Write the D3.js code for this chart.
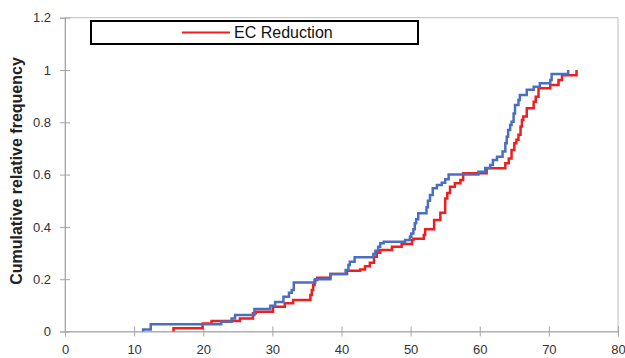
<!DOCTYPE html>
<html>
<head>
<meta charset="utf-8">
<script src="https://cdn.jsdelivr.net/npm/d3@7"></script>
<style>
  body { margin: 0; background: #fff; }
  svg { display: block; }
</style>
</head>
<body>
<svg id="chart" width="625" height="358"></svg>
<script>
// tick values
const xTicks = [0, 10, 20, 30, 40, 50, 60, 70, 80]
const yTicks = [0, 0.2, 0.4, 0.6, 0.8, 1, 1.2]

// EC Reduction (red) - step positions and cumulative frequency after each step
const ecX = [15.7, 19.9, 21.2, 25.3, 27.2, 27.6, 30.1, 31.8, 33.0, 35.5, 35.7, 35.9, 36.1, 36.5,
  38.4, 40.8, 42.7, 43.4, 44.1, 44.7, 45.1, 45.6, 47.3, 48.7, 50.2, 50.4, 51.9, 52.1, 53.4,
  54.3, 55.0, 55.3, 55.7, 56.4, 57.2, 57.6, 61.0, 63.7, 64.2, 64.6, 65.0, 65.3, 65.6, 65.9,
  66.1, 66.3, 66.8, 67.8, 68.1, 68.5, 70.2, 71.4, 71.9, 74.0]
const ecY = [0.012, 0.031, 0.04, 0.05, 0.07, 0.076, 0.095, 0.108, 0.12, 0.14, 0.159, 0.178, 0.197, 0.206,
  0.22, 0.232, 0.237, 0.25, 0.263, 0.286, 0.301, 0.312, 0.324, 0.335, 0.35, 0.355, 0.369, 0.391, 0.426,
  0.454, 0.509, 0.53, 0.554, 0.567, 0.579, 0.605, 0.624, 0.643, 0.662, 0.694, 0.72, 0.733, 0.752, 0.784,
  0.809, 0.822, 0.854, 0.879, 0.898, 0.93, 0.943, 0.962, 0.98, 1.0]

// second series (blue)
const refX = [11.3, 12.4, 22.6, 24.1, 24.6, 27.4, 29.7, 30.4, 31.6, 32.4, 32.8, 33.1, 36.2, 38.4,
  40.6, 41.0, 41.2, 41.9, 44.6, 44.9, 45.3, 45.6, 46.1, 49.2, 49.9, 50.1, 50.4, 50.6, 50.8, 51.1,
  52.3, 52.5, 52.8, 53.2, 53.8, 54.5, 55.0, 55.5, 59.8, 60.8, 61.5, 61.9, 62.5, 63.3, 63.7, 63.9,
  64.1, 64.4, 64.6, 64.9, 65.1, 65.6, 65.8, 66.8, 67.8, 68.7, 70.2, 70.4, 72.8]
const refY = [0.008, 0.028, 0.037, 0.05, 0.063, 0.086, 0.098, 0.113, 0.133, 0.148, 0.159, 0.187, 0.2, 0.22,
  0.235, 0.254, 0.267, 0.284, 0.296, 0.309, 0.324, 0.337, 0.343, 0.35, 0.362, 0.375, 0.391, 0.414, 0.429, 0.452,
  0.475, 0.5, 0.522, 0.548, 0.56, 0.569, 0.582, 0.6, 0.611, 0.625, 0.637, 0.656, 0.668, 0.688, 0.72, 0.745,
  0.771, 0.79, 0.802, 0.834, 0.866, 0.885, 0.904, 0.924, 0.936, 0.949, 0.962, 0.985, 1.0]

const legendLabel = 'EC Reduction'
const yTitle = 'Cumulative relative frequency'

const width = 625
const height = 358
const margin = { top: 17.7, right: 7, bottom: 26.5, left: 65 }

const svg = d3.select('#chart')

const x = d3.scaleLinear().domain([0, 80]).range([margin.left, width - margin.right])
const y = d3.scaleLinear().domain([0, 1.2]).range([height - margin.bottom, margin.top])

const axisColor = '#a6a6a6'
const labelFont = '"Liberation Sans", Arial, sans-serif'

// plot border (top / right)
svg.append('rect')
  .attr('x', x(0))
  .attr('y', y(1.2))
  .attr('width', x(80) - x(0))
  .attr('height', y(0) - y(1.2))
  .attr('fill', 'none')
  .attr('stroke', '#bfbfbf')
  .attr('stroke-width', 1)

// x axis, ticks cross the line
const xAxis = svg.append('g')
  .attr('transform', `translate(0,${y(0)})`)
  .call(d3.axisBottom(x).tickValues(xTicks).tickSize(5).tickPadding(8).tickFormat(d3.format('d')))
xAxis.select('.domain').attr('stroke', axisColor)
xAxis.selectAll('.tick line').attr('stroke', axisColor).attr('y1', -5)
xAxis.selectAll('.tick text')
  .attr('fill', '#333')
  .style('font-family', labelFont)
  .style('font-size', '13px')

// y axis
const yAxis = svg.append('g')
  .attr('transform', `translate(${x(0)},0)`)
  .call(d3.axisLeft(y).tickValues(yTicks).tickSize(5).tickPadding(9).tickFormat(d => d3.format('')(+d.toFixed(1))))
yAxis.select('.domain').attr('stroke', axisColor)
yAxis.selectAll('.tick line').attr('stroke', axisColor).attr('x1', 5)
yAxis.selectAll('.tick text')
  .attr('fill', '#333')
  .style('font-family', labelFont)
  .style('font-size', '13px')

// y title
svg.append('text')
  .attr('transform', 'translate(22,171) rotate(-90)')
  .attr('text-anchor', 'middle')
  .attr('fill', '#222')
  .style('font-family', labelFont)
  .style('font-weight', 'bold')
  .style('font-size', '16px')
  .text(yTitle)

// step lines, starting from zero
function stepPoints (xs, ys) {
  return [[xs[0], 0]].concat(xs.map((v, i) => [v, ys[i]]))
}

const line = d3.line()
  .x(d => x(d[0]))
  .y(d => y(d[1]))
  .curve(d3.curveStepAfter)

svg.append('path')
  .datum(stepPoints(ecX, ecY))
  .attr('d', line)
  .attr('fill', 'none')
  .attr('stroke', '#f01e1e')
  .attr('stroke-width', 2.5)

svg.append('path')
  .datum(stepPoints(refX, refY))
  .attr('d', line)
  .attr('fill', 'none')
  .attr('stroke', '#4a6fc0')
  .attr('stroke-width', 2.5)

// legend
const legend = svg.append('g')
legend.append('rect')
  .attr('x', 91)
  .attr('y', 21)
  .attr('width', 327)
  .attr('height', 23)
  .attr('fill', '#fff')
  .attr('stroke', '#000')
  .attr('stroke-width', 2)
legend.append('line')
  .attr('x1', 182)
  .attr('x2', 230)
  .attr('y1', 32.5)
  .attr('y2', 32.5)
  .attr('stroke', '#f01e1e')
  .attr('stroke-width', 2)
legend.append('text')
  .attr('x', 234)
  .attr('y', 38)
  .attr('fill', '#111')
  .style('font-family', labelFont)
  .style('font-size', '16px')
  .text(legendLabel)
</script>
</body>
</html>
